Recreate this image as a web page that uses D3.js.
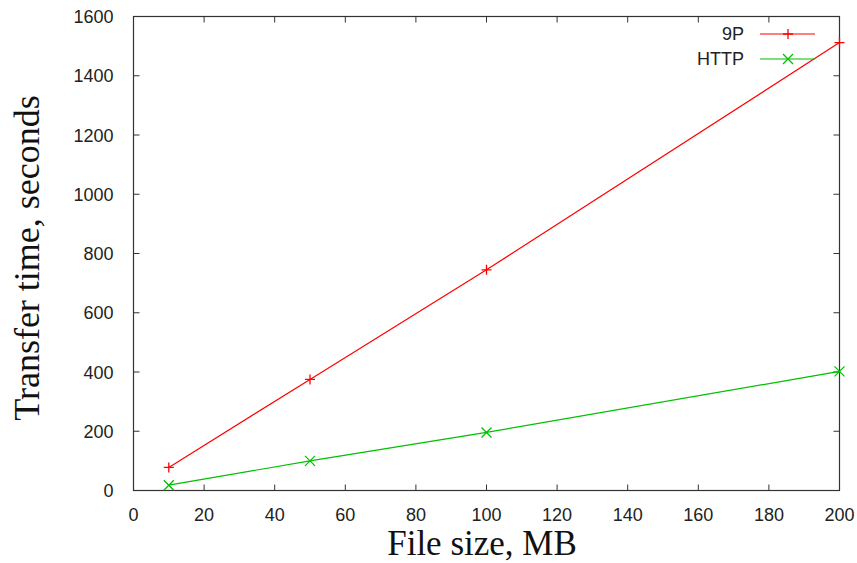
<!DOCTYPE html>
<html><head><meta charset="utf-8">
<script src="https://cdn.jsdelivr.net/npm/d3@7"></script>
<style>body{margin:0;background:#fff}</style>
</head><body>
<script>
const fileSizes = [10, 50, 100, 200];
const series9P = [78, 375, 745, 1512];
const seriesHTTP = [18, 100, 196, 402];
const xTicks = [0, 20, 40, 60, 80, 100, 120, 140, 160, 180, 200];
const yTicks = [0, 200, 400, 600, 800, 1000, 1200, 1400, 1600];
const seriesNames = ["9P", "HTTP"];

const W = 857, H = 563;
const m = {left: 133.5, right: 857 - 839.5, top: 16.5, bottom: 563 - 490.5};
const svg = d3.select("body").append("svg").attr("width", W).attr("height", H);
const x = d3.scaleLinear().domain([0, 200]).range([m.left, W - m.right]);
const y = d3.scaleLinear().domain([0, 1600]).range([H - m.bottom, m.top]);
const frame = "#333";
const tl = 6;
const g = svg.append("g");
// frame
g.append("rect").attr("x", x(0)).attr("y", y(1600)).attr("width", x(200) - x(0)).attr("height", y(0) - y(1600))
  .attr("fill", "none").attr("stroke", frame).attr("stroke-width", 1.2);
// ticks inward on all sides
xTicks.forEach(t => {
  g.append("line").attr("x1", x(t)).attr("x2", x(t)).attr("y1", y(0)).attr("y2", y(0) - tl).attr("stroke", frame);
  g.append("line").attr("x1", x(t)).attr("x2", x(t)).attr("y1", y(1600)).attr("y2", y(1600) + tl).attr("stroke", frame);
  g.append("text").attr("x", x(t)).attr("y", y(0) + 30).attr("text-anchor", "middle")
    .attr("font-family", "Liberation Sans, Arial, sans-serif").attr("font-size", 18).attr("fill", "#222").text(t);
});
yTicks.forEach(t => {
  g.append("line").attr("x1", x(0)).attr("x2", x(0) + tl).attr("y1", y(t)).attr("y2", y(t)).attr("stroke", frame);
  g.append("line").attr("x1", x(200)).attr("x2", x(200) - tl).attr("y1", y(t)).attr("y2", y(t)).attr("stroke", frame);
  g.append("text").attr("x", x(0) - 20).attr("y", y(t) + 6.5).attr("text-anchor", "end")
    .attr("font-family", "Liberation Sans, Arial, sans-serif").attr("font-size", 18).attr("fill", "#222").text(t);
});
// axis titles
svg.append("text").attr("x", 482).attr("y", 555).attr("text-anchor", "middle")
  .attr("font-family", "Liberation Serif, Times New Roman, serif").attr("font-size", 35).attr("fill", "#111").text("File size, MB");
svg.append("text").attr("transform", `translate(39,258) rotate(-90)`).attr("text-anchor", "middle")
  .attr("font-family", "Liberation Serif, Times New Roman, serif").attr("font-size", 36).attr("fill", "#111").text("Transfer time, seconds");

const line = d3.line().x(d => x(d[0])).y(d => y(d[1]));
const data = [
  {name: seriesNames[0], vals: series9P, color: "#ff0000", marker: "plus"},
  {name: seriesNames[1], vals: seriesHTTP, color: "#00c000", marker: "cross"}
];
const ms = 5;
function marker(sel, cx, cy, type, color) {
  if (type === "plus") {
    sel.append("path").attr("d", `M${cx - ms},${cy}H${cx + ms}M${cx},${cy - ms}V${cy + ms}`).attr("stroke", color).attr("stroke-width", 1.3).attr("fill", "none");
  } else {
    sel.append("path").attr("d", `M${cx - ms},${cy - ms}L${cx + ms},${cy + ms}M${cx - ms},${cy + ms}L${cx + ms},${cy - ms}`).attr("stroke", color).attr("stroke-width", 1.3).attr("fill", "none");
  }
}
data.forEach((s, i) => {
  const pts = fileSizes.map((f, j) => [f, s.vals[j]]);
  svg.append("path").attr("d", line(pts)).attr("fill", "none").attr("stroke", s.color).attr("stroke-width", 1.2);
  pts.forEach(p => marker(svg, x(p[0]), y(p[1]), s.marker, s.color));
  const ly = 34 + i * 25;
  svg.append("text").attr("x", 744).attr("y", ly + 6).attr("text-anchor", "end")
    .attr("font-family", "Liberation Sans, Arial, sans-serif").attr("font-size", 18).attr("fill", "#222").text(s.name);
  svg.append("line").attr("x1", 760).attr("x2", 815).attr("y1", ly).attr("y2", ly).attr("stroke", s.color).attr("stroke-width", 1.2);
  marker(svg, 788, ly, s.marker, s.color);
});
</script>
</body></html>
